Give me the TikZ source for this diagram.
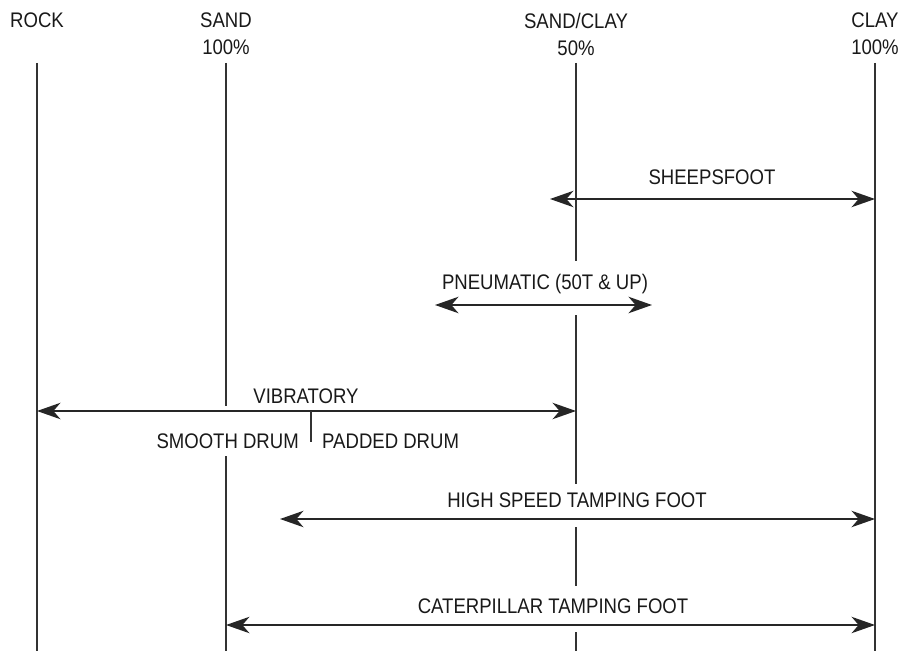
\documentclass[tikz,border=0pt]{standalone}
\usepackage{fontspec}
\setmainfont{Liberation Sans}[FakeStretch=0.88]
\usepackage{tikz}
\usetikzlibrary{arrows.meta,calc,backgrounds}

\tikzset{
  soil/.style={draw=black!80, line width=1pt},
  rangearrow/.style={draw=black!85, line width=1.3pt,
    {Stealth[length=20pt,width=14pt,inset=6pt]}-{Stealth[length=20pt,width=14pt,inset=6pt]}},
  lbl/.style={inner sep=0pt, text=black!90, font=\fontsize{18}{23}\selectfont},
}

\begin{document}
\begin{tikzpicture}[x=0.03cm, y=-0.03cm]
\useasboundingbox (0,0) rectangle (903,651);
% soil headings
\node[lbl, anchor=north] (rock) at (37,13) {ROCK};
\node[lbl, anchor=north, align=center] (sand) at (226,13) {SAND\\100\%};
\node[lbl, anchor=north, align=center] (sandclay) at (576,13) {SAND/CLAY\\50\%};
\node[lbl, anchor=north, align=center] (clay) at (875,13) {CLAY\\100\%};
% roller ranges
\coordinate (sheepL) at (550,199);
\coordinate (sheepR) at (clay |- sheepL);
\node[lbl, anchor=base] (sheepLbl) at (712,185) {SHEEPSFOOT};
\coordinate (pneuL) at (435,305);
\coordinate (pneuR) at (652,305);
\node[lbl, anchor=base] (pneuLbl) at (545,289) {PNEUMATIC (50T \& UP)};
\coordinate (vibL) at (rock |- 0,411);
\coordinate (vibR) at (sandclay |- vibL);
\node[lbl, anchor=base] (vibLbl) at (306,403) {VIBRATORY};
\coordinate (drumSplit) at (311,411);
\node[lbl, anchor=base east] (smoothLbl) at (299,448) {SMOOTH DRUM};
\node[lbl, anchor=base west] (paddedLbl) at (322,448) {PADDED DRUM};
\coordinate (hsL) at (280,519);
\coordinate (hsR) at (clay |- hsL);
\node[lbl, anchor=base] (hsLbl) at (577,507) {HIGH SPEED TAMPING FOOT};
\coordinate (catL) at (sand |- 0,625);
\coordinate (catR) at (clay |- catL);
\node[lbl, anchor=base] (catLbl) at (553,613) {CATERPILLAR TAMPING FOOT};
% soil lines, broken behind the labels
\begin{scope}[on background layer]
  \foreach \s in {rock,sand,sandclay,clay}
    \draw[soil] (\s |- 0,63) -- (\s |- 0,651);
  \fill[white] ($(pneuLbl.north west)+(-2,-12)$) rectangle ($(pneuLbl.east |- pneuR)+(2,10)$);
  \fill[white] ($(smoothLbl.west |- vibL)+(0,-5)$) rectangle ($(smoothLbl.south east)+(0,8)$);
  \fill[white] ($(hsLbl.north west)+(0,-8)$) rectangle ($(hsLbl.east |- hsR)+(0,8)$);
  \fill[white] ($(catLbl.north west)+(0,-12)$) rectangle ($(catLbl.east |- catR)+(0,7)$);
\end{scope}
\draw[rangearrow] (sheepL) -- (sheepR);
\draw[rangearrow, line width=2pt] (pneuL) -- (pneuR);
\draw[rangearrow] (vibL) -- (vibR);
\draw[soil] (drumSplit) -- ++(0,31);
\draw[rangearrow] (hsL) -- (hsR);
\draw[rangearrow] (catL) -- (catR);
\end{tikzpicture}
\end{document}
